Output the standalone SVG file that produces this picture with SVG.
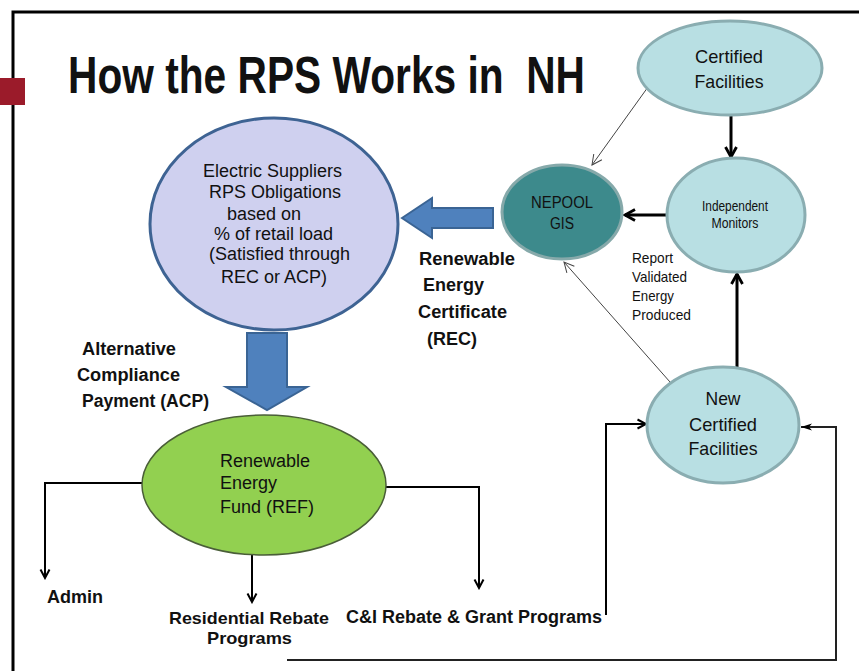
<svg xmlns="http://www.w3.org/2000/svg" width="859" height="671" viewBox="0 0 859 671">
<defs>
<style>
.t{font-family:"Liberation Sans",Arial,sans-serif;fill:#111}
.b{font-weight:bold}
.lb{fill:#b8dfe3;stroke:#8aadb1;stroke-width:3}
.blk{fill:none;stroke:#000}
.thin{fill:none;stroke:#444;stroke-width:1}
.barrow{fill:#4f81bd;stroke:#3a6494;stroke-width:2}
</style>
<marker id="mBig" viewBox="0 0 14 14" refX="12" refY="7" markerWidth="14" markerHeight="14" markerUnits="userSpaceOnUse" orient="auto">
<path d="M2,1.5 L12,7 L2,12.5" fill="none" stroke="#000" stroke-width="2.8"/>
</marker>
<marker id="mMid" viewBox="0 0 12 12" refX="10.5" refY="6" markerWidth="12" markerHeight="12" markerUnits="userSpaceOnUse" orient="auto">
<path d="M2,1.5 L10.5,6 L2,10.5" fill="none" stroke="#000" stroke-width="2"/>
</marker>
<marker id="mThin" viewBox="0 0 12 12" refX="11" refY="6" markerWidth="12" markerHeight="12" markerUnits="userSpaceOnUse" orient="auto">
<path d="M1,1 L11,6 L1,11" fill="none" stroke="#444" stroke-width="1"/>
</marker>
<marker id="mTri" viewBox="0 0 12 10" refX="11" refY="5" markerWidth="12" markerHeight="10" markerUnits="userSpaceOnUse" orient="auto">
<path d="M0,1.5 L11,5 L0,8.5 L3,5 Z" fill="#000"/>
</marker>
</defs>
<rect width="859" height="671" fill="#fff"/>
<path d="M13,671 L13,12 L859,12" fill="none" stroke="#000" stroke-width="3"/>
<rect x="0" y="78" width="25" height="27" fill="#9b1b2a"/>
<text class="t b" transform="translate(68,93) scale(1,1.27)" x="0" y="0" font-size="41" textLength="517" lengthAdjust="spacingAndGlyphs" fill="#000" style="white-space:pre" xml:space="preserve">How the RPS Works in  NH</text>

<g id="connectors">
<line class="blk" x1="731" y1="115" x2="731" y2="157" stroke-width="3" marker-end="url(#mBig)"/>
<line class="blk" x1="667" y1="215" x2="625" y2="215" stroke-width="3" marker-end="url(#mBig)"/>
<line class="blk" x1="737" y1="367" x2="737" y2="274" stroke-width="3" marker-end="url(#mBig)"/>
<line class="thin" x1="648" y1="87" x2="592" y2="165" marker-end="url(#mThin)"/>
<line class="thin" x1="670" y1="382" x2="564" y2="262" marker-end="url(#mThin)"/>
<path class="blk" d="M142,483 L45,483 L45,578" stroke-width="2" marker-end="url(#mMid)"/>
<path class="blk" d="M252,555 L252,602" stroke-width="2" marker-end="url(#mMid)"/>
<path class="blk" d="M386,487 L479,487 L479,588" stroke-width="2" marker-end="url(#mMid)"/>
<path class="blk" d="M606,615 L606,424 L646,424" stroke-width="2" marker-end="url(#mMid)"/>
<path d="M287,660 L836,660 L836,427 L801,427" fill="none" stroke="#222" stroke-width="2" marker-end="url(#mTri)"/>
<path class="barrow" d="M402,218 L432,198 L432,208 L493,208 L493,228 L432,228 L432,238 Z"/>
<path class="barrow" d="M247,333 L287,333 L287,387 L307,387 L267,410 L226,387 L247,387 Z"/>
</g>

<g id="certified">
<ellipse class="lb" cx="730" cy="68" rx="92" ry="47"/>
<text class="t" x="729" y="63" font-size="19" text-anchor="middle" textLength="68" lengthAdjust="spacingAndGlyphs">Certified</text>
<text class="t" x="729" y="88" font-size="19" text-anchor="middle" textLength="69" lengthAdjust="spacingAndGlyphs">Facilities</text>
</g>

<g id="monitors">
<ellipse class="lb" cx="736" cy="215" rx="69" ry="57"/>
<text class="t" x="735" y="211" font-size="14" text-anchor="middle" textLength="66" lengthAdjust="spacingAndGlyphs">Independent</text>
<text class="t" x="735" y="228" font-size="14" text-anchor="middle" textLength="47" lengthAdjust="spacingAndGlyphs">Monitors</text>
</g>

<g id="nepool">
<ellipse cx="562" cy="212" rx="60" ry="47" fill="#3d8a8c" stroke="#86a9aa" stroke-width="3"/>
<text class="t" x="562" y="208" font-size="16" text-anchor="middle" textLength="62" lengthAdjust="spacingAndGlyphs" fill="#1a2828">NEPOOL</text>
<text class="t" x="562" y="229" font-size="16" text-anchor="middle" textLength="24" lengthAdjust="spacingAndGlyphs" fill="#1a2828">GIS</text>
</g>

<g id="newcertified">
<ellipse class="lb" cx="723" cy="425" rx="76" ry="58"/>
<text class="t" x="723" y="405" font-size="19" text-anchor="middle" textLength="35" lengthAdjust="spacingAndGlyphs">New</text>
<text class="t" x="723" y="431" font-size="19" text-anchor="middle" textLength="68" lengthAdjust="spacingAndGlyphs">Certified</text>
<text class="t" x="723" y="455" font-size="19" text-anchor="middle" textLength="69" lengthAdjust="spacingAndGlyphs">Facilities</text>
</g>

<g id="suppliers">
<ellipse cx="274" cy="224" rx="124" ry="106" fill="#cfd0ef" stroke="#3e6393" stroke-width="3"/>
<text class="t" font-size="18">
<tspan x="203" y="177">Electric Suppliers</tspan>
<tspan x="209" y="198">RPS Obligations</tspan>
<tspan x="227" y="220">based on</tspan>
<tspan x="214" y="240">% of retail load</tspan>
<tspan x="209" y="260">(Satisfied through</tspan>
<tspan x="221" y="283">REC or ACP)</tspan>
</text>
</g>

<g id="ref">
<ellipse cx="264" cy="485" rx="122" ry="70" fill="#92d050" stroke="#4a5e38" stroke-width="1.5"/>
<text class="t" font-size="18">
<tspan x="220" y="467">Renewable</tspan>
<tspan x="220" y="489">Energy</tspan>
<tspan x="220" y="513">Fund (REF)</tspan>
</text>
</g>

<g id="labels">
<text class="t" x="632" y="263" font-size="15" textLength="41" lengthAdjust="spacingAndGlyphs">Report</text>
<text class="t" x="632" y="282" font-size="15" textLength="55" lengthAdjust="spacingAndGlyphs">Validated</text>
<text class="t" x="632" y="301" font-size="15" textLength="42" lengthAdjust="spacingAndGlyphs">Energy</text>
<text class="t" x="632" y="320" font-size="15" textLength="59" lengthAdjust="spacingAndGlyphs">Produced</text>

<text class="t b" x="419" y="265" font-size="18" textLength="96" lengthAdjust="spacingAndGlyphs">Renewable</text>
<text class="t b" x="423" y="291" font-size="18">Energy</text>
<text class="t b" x="418" y="318" font-size="18" textLength="89" lengthAdjust="spacingAndGlyphs">Certificate</text>
<text class="t b" x="427" y="345" font-size="18">(REC)</text>

<text class="t b" x="82" y="355" font-size="18" textLength="94" lengthAdjust="spacingAndGlyphs">Alternative</text>
<text class="t b" x="77" y="381" font-size="18" textLength="103" lengthAdjust="spacingAndGlyphs">Compliance</text>
<text class="t b" x="82" y="407" font-size="18" textLength="127" lengthAdjust="spacingAndGlyphs">Payment (ACP)</text>

<text class="t b" x="47" y="603" font-size="18">Admin</text>
<text class="t b" x="169" y="624" font-size="17" textLength="160" lengthAdjust="spacingAndGlyphs">Residential Rebate</text>
<text class="t b" x="207" y="644" font-size="17" textLength="85" lengthAdjust="spacingAndGlyphs">Programs</text>
<text class="t b" x="346" y="623" font-size="18" textLength="256" lengthAdjust="spacingAndGlyphs">C&amp;I Rebate &amp; Grant Programs</text>
</g>
</svg>
